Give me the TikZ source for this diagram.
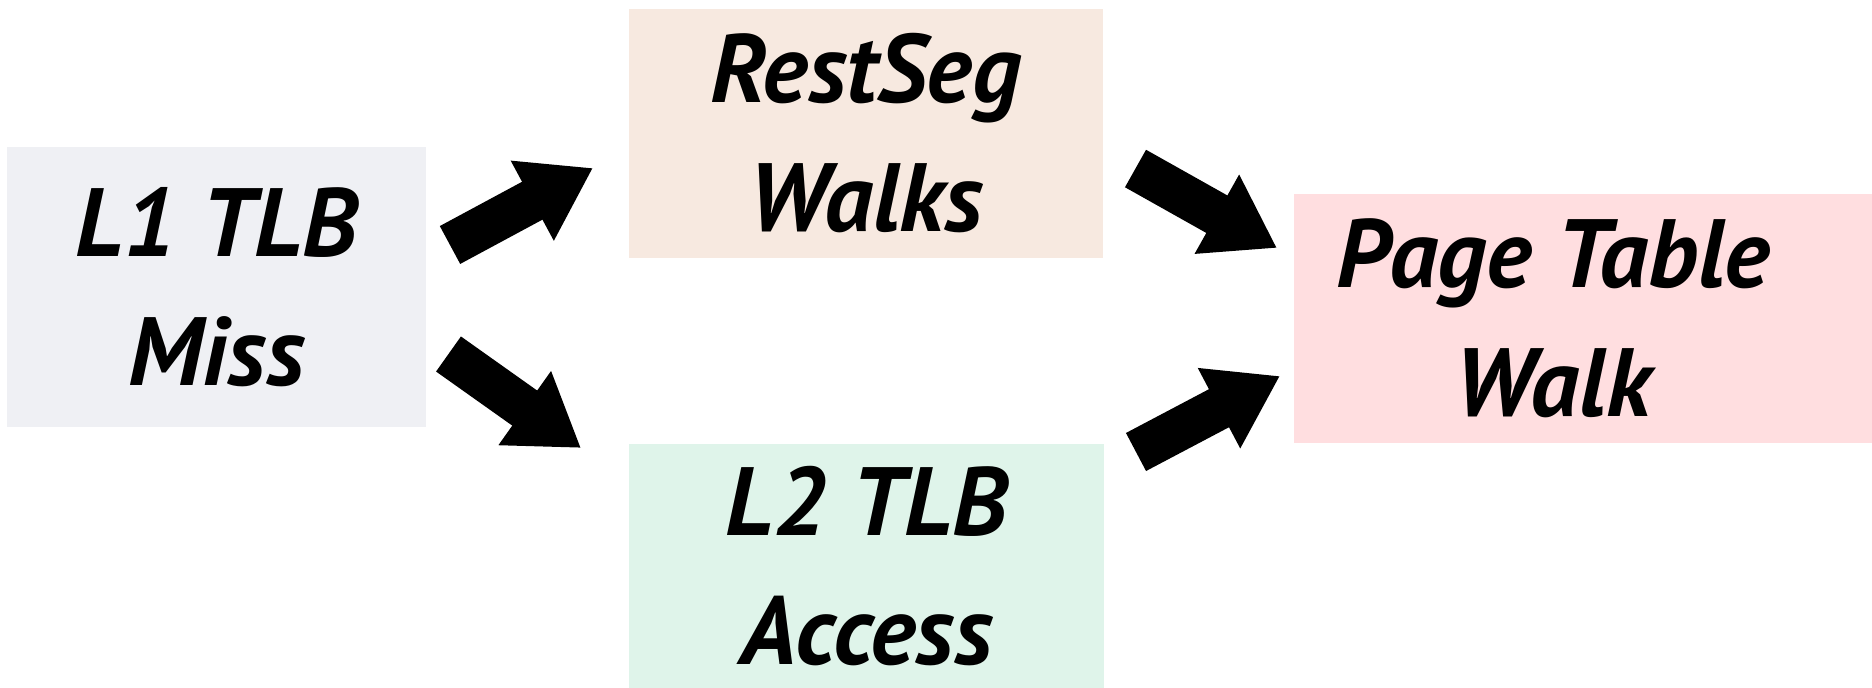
\documentclass[tikz,border=0pt]{standalone}
\usepackage{fontspec}
\setmainfont{PT Sans}
\usetikzlibrary{arrows.meta}

\definecolor{boxgray}{HTML}{EFF0F4}
\definecolor{boxpeach}{HTML}{F7E9E0}
\definecolor{boxpink}{HTML}{FFDEE0}
\definecolor{boxmint}{HTML}{DFF4EA}

\tikzset{
  stagetext/.style={inner sep=0pt, align=center,
    font=\fontsize{97}{129}\selectfont\bfseries\itshape},
  stage/.style={rectangle, stagetext},
  flow/.style={line width=43pt, black,
    -{Triangle[width=86pt,length=69pt]}},
}

\begin{document}
\begin{tikzpicture}[x=1pt, y=-1pt]
\useasboundingbox (0,0) rectangle (1872,688);

% stages of the address translation
\node[stage, fill=boxgray, minimum width=419pt, minimum height=280pt]
  (l1) at (216.5,287) {L1 TLB\\Miss};
\node[stage, fill=boxpeach, minimum width=474pt, minimum height=249pt]
  (rs) at (866,133.5) {RestSeg\\Walks};
\node[stage, fill=boxmint, minimum width=475pt, minimum height=245pt]
  (l2) at (866.5,566) {L2 TLB\\Access};
% the last box runs off the right edge; its text sits left of its middle
\node[stage, fill=boxpink, minimum width=578pt, minimum height=249pt]
  (pt) at (1583,318.5) {};
\node[stagetext] (ptl) at ([xshift=-30pt]pt.center) {Page Table\\Walk};

% arrow ends in the gaps between the stages
\coordinate (a1s) at (450,245);    \coordinate (a1e) at (593,168);
\coordinate (a2s) at (448.5,354);  \coordinate (a2e) at (581,448);
\coordinate (a3s) at (1135.5,168.5); \coordinate (a3e) at (1277,248);
\coordinate (a4s) at (1136,452);   \coordinate (a4e) at (1280,376);

\draw[flow] (a1s) -- (a1e);
\draw[flow] (a2s) -- (a2e);
\draw[flow] (a3s) -- (a3e);
\draw[flow] (a4s) -- (a4e);
\end{tikzpicture}
\end{document}
